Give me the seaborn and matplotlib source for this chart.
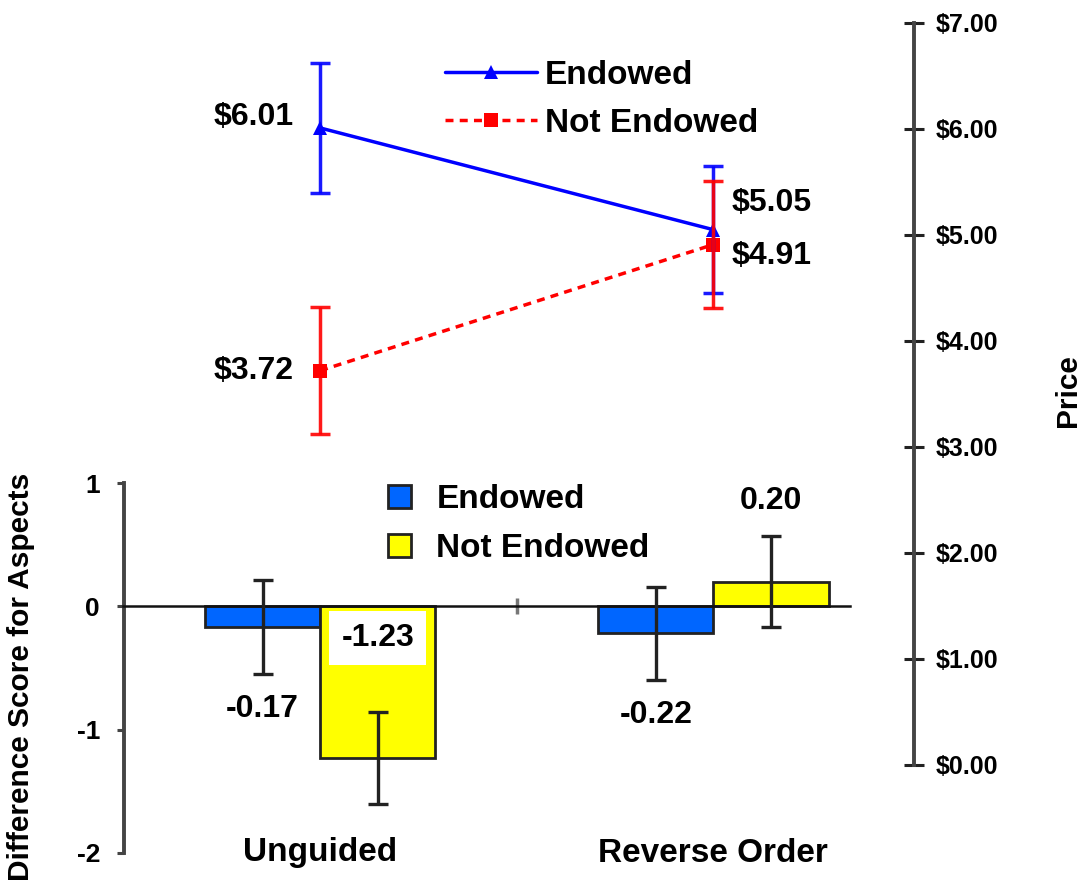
import numpy as np
import pandas as pd
import matplotlib
matplotlib.use("Agg")
import matplotlib.pyplot as plt
import seaborn as sns
from matplotlib.lines import Line2D
from matplotlib.patches import Patch
from matplotlib.ticker import FuncFormatter

# ---- data ----
conditions = ["Unguided", "Reverse Order"]
groups = ["Endowed", "Not Endowed"]

price_endowed = [6.01, 5.05]
price_not_endowed = [3.72, 4.91]
price_err_endowed = [0.61, 0.60]
price_err_not_endowed = [0.60, 0.60]

score_endowed = [-0.17, -0.22]
score_not_endowed = [-1.23, 0.20]
score_err_endowed = [0.38, 0.38]
score_err_not_endowed = [0.375, 0.37]

price_ticks = [0, 1, 2, 3, 4, 5, 6, 7]
score_ticks = [-2, -1, 0, 1]

line_colors = {"Endowed": "#0000FF", "Not Endowed": "#FF0000"}
bar_colors = {"Endowed": "#0066FF", "Not Endowed": "#FFFF00"}

prices = pd.DataFrame({
    "condition": conditions * 2,
    "group": [groups[0]] * 2 + [groups[1]] * 2,
    "price": price_endowed + price_not_endowed,
    "err": price_err_endowed + price_err_not_endowed,
})
scores = pd.DataFrame({
    "condition": conditions * 2,
    "group": [groups[0]] * 2 + [groups[1]] * 2,
    "score": score_endowed + score_not_endowed,
    "err": score_err_endowed + score_err_not_endowed,
})

# ---- style ----
sns.set_theme(style="white")
plt.rcParams["font.family"] = ["Liberation Sans", "DejaVu Sans"]
plt.rcParams["font.weight"] = "bold"
plt.rcParams["axes.unicode_minus"] = False
for key in ("text.color", "axes.labelcolor", "xtick.labelcolor", "ytick.labelcolor"):
    plt.rcParams[key] = "black"

W, H = 1084, 890
fig = plt.figure(figsize=(W / 100, H / 100), dpi=100)

def px_axes(left, right, top, bottom):
    return [left / W, 1 - bottom / H, (right - left) / W, (bottom - top) / H]

ax_bar = fig.add_axes(px_axes(123.5, 910, 483, 853))
ax_line = fig.add_axes(px_axes(123.5, 910, 23, 765))
for a in (ax_bar, ax_line):
    a.set_facecolor("none")
ax_line.set_zorder(3)
ax_bar.set_zorder(2)

BIG = 24
LBL = 23
AXIS_GRAY = "#444444"

# ---- bar chart: difference scores ----
sns.barplot(data=scores, x="condition", y="score", hue="group",
            order=conditions, hue_order=groups, palette=bar_colors,
            saturation=1, width=0.586, edgecolor="#222222", linewidth=2,
            errorbar=None, legend=False, ax=ax_bar, zorder=2)

for group, container in zip(groups, ax_bar.containers):
    sub = scores[scores["group"] == group].set_index("condition").loc[conditions]
    xs = [p.get_x() + p.get_width() / 2 for p in container]
    ax_bar.errorbar(xs, sub["score"], yerr=sub["err"], fmt="none",
                    ecolor="#222222", elinewidth=2.4, capsize=7, capthick=2.4,
                    zorder=4)
    for x, v, e in zip(xs, sub["score"], sub["err"]):
        if group == "Not Endowed" and v < -1:
            ax_bar.annotate(f"{v:.2f}", xy=(x, 0), xytext=(0, -23),
                            textcoords="offset points", ha="center", va="center",
                            fontsize=LBL, fontweight="bold", zorder=6,
                            bbox=dict(boxstyle="square,pad=0.38", fc="white", ec="none"))
        elif v < 0:
            ax_bar.annotate(f"{v:.2f}", xy=(x, v - e), xytext=(0, -25),
                            textcoords="offset points", ha="center", va="center",
                            fontsize=LBL, fontweight="bold")
        else:
            ax_bar.annotate(f"{v:.2f}", xy=(x, v + e), xytext=(0, 25),
                            textcoords="offset points", ha="center", va="center",
                            fontsize=LBL, fontweight="bold")

ax_bar.set_xlim(-0.5, 1.5)
ax_bar.set_ylim(-2, 1)
ax_bar.set_yticks(score_ticks)
ax_bar.set_yticklabels([str(t) for t in score_ticks])
ax_bar.tick_params(axis="y", direction="out", length=5, width=2.2,
                   color=AXIS_GRAY, pad=12, labelsize=19, left=True)
ax_bar.set_xticks([0.5])
ax_bar.set_xticklabels([""])
ax_bar.tick_params(axis="x", direction="inout", length=12, width=2.5,
                   color="#777777", bottom=True)
ax_bar.set_xlabel("")
ax_bar.set_ylabel("Difference Score for Aspects", fontsize=21.5,
                  fontweight="bold")
ax_bar.yaxis.set_label_coords(-0.112, 0.476)
for s in ("top", "right"):
    ax_bar.spines[s].set_visible(False)
ax_bar.spines["left"].set_color(AXIS_GRAY)
ax_bar.spines["left"].set_linewidth(2.8)
ax_bar.spines["bottom"].set_position(("data", 0))
ax_bar.spines["bottom"].set_bounds(-0.5, 1.347)
ax_bar.spines["bottom"].set_color("#111111")
ax_bar.spines["bottom"].set_linewidth(1.8)
ax_bar.spines["bottom"].set_zorder(3)

for i, cond in enumerate(conditions):
    ax_bar.text(i, -2, cond, ha="center", va="center", fontsize=BIG,
                fontweight="bold")

ax_bar.legend(handles=[Patch(fc=bar_colors[g], ec="#222222", lw=2) for g in groups],
              labels=groups, loc="upper left", frameon=False,
              bbox_to_anchor=(388 / W, 1 - 484 / H), bbox_transform=fig.transFigure,
              fontsize=BIG, handlelength=0.7, handleheight=0.7,
              handletextpad=0.75, labelspacing=0.55, borderpad=0, borderaxespad=0)

# ---- line chart: prices ----
sns.pointplot(data=prices, x="condition", y="price", hue="group",
              order=conditions, hue_order=groups, palette=line_colors,
              markers=["^", "s"], linestyles=["-", (0, (2.3, 1.8))],
              errorbar=None, dodge=False, legend=False, ax=ax_line)
for ln in ax_line.lines:
    ln.set_linewidth(2.5)
    ln.set_markersize(10.5)
    ln.set_markeredgewidth(0)

for group in groups:
    sub = prices[prices["group"] == group].set_index("condition").loc[conditions]
    xs = [conditions.index(c) for c in sub.index]
    ax_line.errorbar(xs, sub["price"], yerr=sub["err"], fmt="none",
                     ecolor=line_colors[group], elinewidth=2.5, capsize=7,
                     capthick=2.5, alpha=0.9, zorder=2)
    for x, v in zip(xs, sub["price"]):
        if x == 0:
            off, ha = (-19, 8 if v > 5 else 0), "right"
        elif v >= max(price_endowed[1], price_not_endowed[1]):
            off, ha = (13, 19), "left"
        else:
            off, ha = (13, -8), "left"
        ax_line.annotate(f"${v:.2f}", xy=(x, v), xytext=off,
                         textcoords="offset points", ha=ha, va="center",
                         fontsize=LBL, fontweight="bold")

ax_line.set_xlim(-0.5, 1.5)
ax_line.set_ylim(0, 7)
ax_line.set_xticks([])
ax_line.set_xlabel("")
ax_line.yaxis.tick_right()
ax_line.yaxis.set_label_position("right")
ax_line.set_yticks(price_ticks)
ax_line.yaxis.set_major_formatter(FuncFormatter(lambda v, _: f"${v:.2f}"))
ax_line.tick_params(axis="y", direction="inout", length=15, width=2.2,
                    color="#222222", pad=8, labelsize=18, right=True, left=False)
ax_line.set_ylabel("Price", fontsize=21.5, fontweight="bold", rotation=90)
ax_line.yaxis.set_label_coords(1.183, 0.504)
for s in ("top", "left", "bottom"):
    ax_line.spines[s].set_visible(False)
ax_line.spines["right"].set_color(AXIS_GRAY)
ax_line.spines["right"].set_linewidth(2.8)
ax_line.spines["right"].set_position(("outward", 3))

line_handles = [
    Line2D([], [], color=line_colors["Endowed"], lw=2.5, marker="^", ms=10.5, mew=0),
    Line2D([], [], color=line_colors["Not Endowed"], lw=2.5, ls=(0, (2.3, 1.8)),
           marker="s", ms=9.5, mew=0),
]
ax_line.legend(handles=line_handles, labels=groups, loc="upper left",
               frameon=False, bbox_to_anchor=(445 / W, 1 - 60 / H),
               bbox_transform=fig.transFigure, fontsize=BIG, handlelength=2.75,
               handletextpad=0.25, labelspacing=0.5, borderpad=0,
               borderaxespad=0)

fig.savefig("out.png", dpi=100)
